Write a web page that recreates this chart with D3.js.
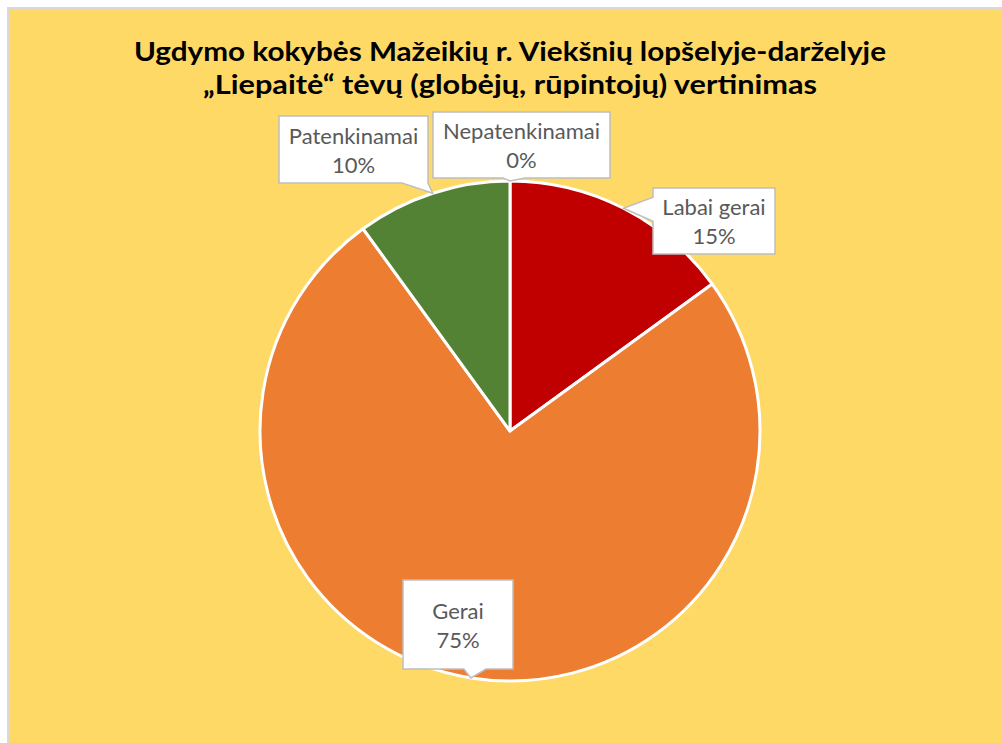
<!DOCTYPE html>
<html>
<head>
<meta charset="utf-8">
<script src="https://cdn.jsdelivr.net/npm/d3@7"></script>
<style>
  html, body { margin: 0; padding: 0; background: #fff; }
  svg { display: block; }
</style>
</head>
<body>
<div id="chart"></div>
<script>
// chart data
const categories = ["Labai gerai", "Gerai", "Patenkinamai", "Nepatenkinamai"];
const values = [15, 75, 10, 0];
const colors = ["#C00000", "#ED7D31", "#548235", "#A5A5A5"];
const titleLines = ["Ugdymo kokybės Mažeikių r. Viekšnių lopšelyje-darželyje", "„Liepaitė“ tėvų (globėjų, rūpintojų) vertinimas"];

// callout box placement (left, top, width, height), same order as categories
const boxes = [
  [653, 188, 122, 66],
  [403, 580, 110, 89],
  [279, 116, 149, 67],
  [433, 112, 177, 66]
];

const W = 1002, H = 743;
const cx = 510, cy = 431, radius = 250;

const svg = d3.select("#chart").append("svg")
  .attr("width", W)
  .attr("height", H);

// chart area with light border (runs off the right / bottom edge)
svg.append("rect")
  .attr("x", 8).attr("y", 8)
  .attr("width", W + 10).attr("height", H + 10)
  .attr("fill", "#FFD966")
  .attr("stroke", "#D9D9D9")
  .attr("stroke-width", 2);

// title
const title = svg.append("g");
title.selectAll("text")
  .data(titleLines)
  .enter()
  .append("text")
  .attr("x", cx)
  .attr("y", (d, i) => 61 + i * 33)
  .attr("text-anchor", "middle")
  .attr("font-family", "Lato, 'Open Sans', sans-serif")
  .attr("font-weight", "bold")
  .attr("font-size", 26.5)
  .attr("fill", "#000")
  .text(d => d);

const titleWidths = [752, 614];
title.selectAll("text").each(function (d, i) {
  const len = this.getComputedTextLength();
  if (len > 0) {
    d3.select(this).attr("textLength", titleWidths[i]).attr("lengthAdjust", "spacingAndGlyphs");
  }
});

// pie
const data = categories.map((c, i) => ({ name: c, value: values[i], color: colors[i], box: boxes[i] }));

const pie = d3.pie().sort(null).value(d => d.value);
const arcs = pie(data);

const arc = d3.arc().innerRadius(0).outerRadius(radius);

const layer = svg.append("g").attr("transform", `translate(${cx},${cy})`);

layer.selectAll("path")
  .data(arcs.filter(d => d.data.value > 0))
  .enter()
  .append("path")
  .attr("d", arc)
  .attr("fill", d => d.data.color)
  .attr("stroke", "#fff")
  .attr("stroke-width", 3)
  .attr("stroke-linejoin", "round");

// callout shape: rectangle with a pointer to the tip
function calloutPath(b, tip) {
  const [x, y, w, h] = b;
  const [tx, ty] = tip;
  const p = d3.path();
  if (ty > y + h) {
    // pointer on bottom edge
    let c = Math.max(x + 10, Math.min(x + w - 14, tx));
    let a0 = c - 7, a1 = c + 15;
    if (a1 > x + w) { a1 = x + w; a0 = a1 - 26; }
    p.moveTo(x, y);
    p.lineTo(x + w, y);
    p.lineTo(x + w, y + h);
    p.lineTo(a1, y + h);
    p.lineTo(tx, ty);
    p.lineTo(a0, y + h);
    p.lineTo(x, y + h);
    p.closePath();
  } else if (tx < x) {
    // pointer on left edge
    const c = Math.max(y + 10, Math.min(y + h - 10, ty));
    p.moveTo(x, y);
    p.lineTo(x + w, y);
    p.lineTo(x + w, y + h);
    p.lineTo(x, y + h);
    p.lineTo(x, c + 13);
    p.lineTo(tx, ty);
    p.lineTo(x, c - 11);
    p.closePath();
  } else {
    p.rect(x, y, w, h);
  }
  return p.toString();
}

const labels = svg.append("g");

arcs.forEach(d => {
  const mid = (d.startAngle + d.endAngle) / 2;
  const tip = [cx + radius * Math.sin(mid), cy - radius * Math.cos(mid)];
  const b = d.data.box;
  const g = labels.append("g");
  g.append("path")
    .attr("d", calloutPath(b, tip))
    .attr("fill", "#fff")
    .attr("stroke", "#BFBFBF")
    .attr("stroke-width", 1.5);
  const mx = b[0] + b[2] / 2, my = b[1] + b[3] / 2;
  const lines = [d.data.name, d3.format(".0%")(d.data.value / d3.sum(values))];
  g.selectAll("text")
    .data(lines)
    .enter()
    .append("text")
    .attr("x", mx)
    .attr("y", (t, i) => my - 6 + i * 29)
    .attr("text-anchor", "middle")
    .attr("font-family", "Lato, 'Open Sans', sans-serif")
    .attr("font-size", 22)
    .attr("fill", "#595959")
    .text(t => t);
});
</script>
</body>
</html>
